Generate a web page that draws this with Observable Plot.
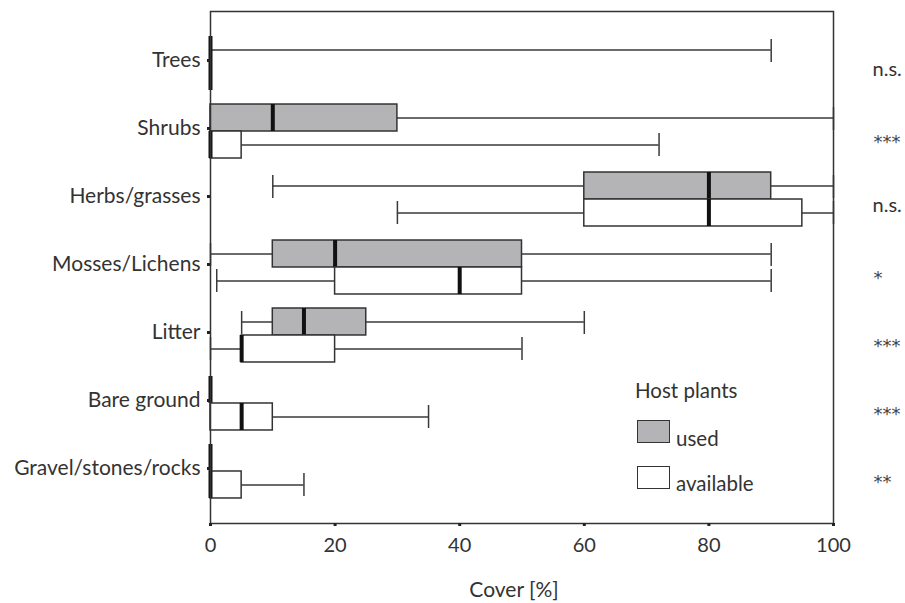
<!DOCTYPE html>
<html><head><meta charset="utf-8">
<script src="https://cdn.jsdelivr.net/npm/d3@7"></script>
<script src="https://cdn.jsdelivr.net/npm/@observablehq/plot@0.6"></script>
<style>
body{margin:0;background:#fff;font-family:Lato,sans-serif;color:#333}
#wrap{position:relative;width:905px;height:603px}
.legend{position:absolute;left:635px;top:380px;font-size:20.5px;color:#333;line-height:1}
.legend .title{position:absolute;left:0;top:0;white-space:nowrap}
.legend .sw{position:absolute;left:2px;width:31px;height:21px;border:1.5px solid #333}
.legend .lab{position:absolute;left:41px;white-space:nowrap}
</style></head><body><div id="wrap"></div><script>
const categories = ["Trees","Shrubs","Herbs/grasses","Mosses/Lichens","Litter","Bare ground","Gravel/stones/rocks"];
const significance = ["n.s.","***","n.s.","*","***","***","**"];
// [min, q1, median, q3, max]
const used = [
  [0,0,0,0,90],
  [0,0,10,30,100],
  [10,60,80,90,100],
  [0,10,20,50,90],
  [5,10,15,25,60],
  [0,0,0,0,0],
  [0,0,0,0,0]
];
const available = [
  [0,0,0,0,0],
  [0,0,0,5,72],
  [30,60,80,95,100],
  [1,20,40,50,90],
  [0,5,5,20,50],
  [0,0,5,10,35],
  [0,0,0,5,15]
];
const xTicks = [0,20,40,60,80,100];
const xLabel = "Cover [%]";
const groups = ["used","available"];
const groupFill = ["#b4b4b6","#ffffff"];

const rows = (stats, g) => stats.map((s,i)=>({cat:categories[i], group:g, min:s[0], q1:s[1], med:s[2], q3:s[3], max:s[4]}));
const U = rows(used, groups[0]), A = rows(available, groups[1]);
const sig = categories.map((c,i)=>({cat:c, text:significance[i]}));
const half = 27;
function boxMarks(data, top, fill) {
  const inset = top ? {insetBottom: half} : {insetTop: half};
  const capInset = top ? {insetTop: 3, insetBottom: half+1} : {insetTop: half+2, insetBottom: 2};
  const dy = top ? -half/2 : half/2;
  return [
    Plot.ruleY(data, {y:"cat", x1:"min", x2:"max", dy, stroke:"#3a3a3a", strokeWidth:1.5}),
    Plot.tickX(data, {y:"cat", x:"min", ...capInset, stroke:"#3a3a3a", strokeWidth:1.5}),
    Plot.tickX(data, {y:"cat", x:"max", ...capInset, stroke:"#3a3a3a", strokeWidth:1.5}),
    Plot.barX(data, {y:"cat", x1:"q1", x2:"q3", ...inset, fill, stroke:"#333", strokeWidth:1.5}),
    Plot.tickX(data, {y:"cat", x:"med", ...inset, stroke:"#111", strokeWidth:4})
  ];
}
const chart = Plot.plot({
  width: 905, height: 603,
  marginLeft: 210, marginRight: 72, marginTop: 11, marginBottom: 80,
  style: {fontFamily: "Lato, sans-serif", fontSize: "20px", color: "#333", background: "#fff"},
  x: {domain: [0,100], round: false},
  y: {type: "band", domain: categories, paddingInner: 0.206, paddingOuter: 0.368, round: false},
  marks: [
    ...boxMarks(U, true, groupFill[0]),
    ...boxMarks(A, false, groupFill[1]),
    Plot.frame({stroke:"#333", strokeWidth:1.5}),
    Plot.axisY({tickSize: 3, tickPadding: 7, strokeWidth: 3, stroke:"#222", fontSize: 21, dy: -3, label: null}),
    Plot.axisX({ticks: xTicks, tickSize: 3, tickPadding: 11, strokeWidth: 3, stroke:"#222", fontSize: 20, label: null}),
    Plot.text([xLabel], {text: d => d, frameAnchor: "bottom", lineAnchor: "bottom", dx: -8, dy: 73, fontSize: 21, fill: "#333"}),
    Plot.text(sig.filter(d => d.text === "n.s."), {y: "cat", text: "text", frameAnchor: "right", textAnchor: "start", dx: 39, dy: 6, fontSize: 20, fill: "#333"}),
    Plot.text(sig.filter(d => d.text !== "n.s."), {y: "cat", text: "text", frameAnchor: "right", textAnchor: "start", dx: 40, dy: 11, fontSize: 18, fontFamily: "DejaVu Sans", fill: "#444"})
  ]
});
const wrap = document.getElementById("wrap");
wrap.appendChild(chart);
const leg = document.createElement("div");
leg.className = "legend";
leg.innerHTML = `<div class="title">Host plants</div>` +
  groups.map((g,i)=>`<div class="sw" style="top:${40+i*46}px;background:${groupFill[i]}"></div><div class="lab" style="top:${48+i*45}px">${g}</div>`).join("");
wrap.appendChild(leg);
</script></body></html>
